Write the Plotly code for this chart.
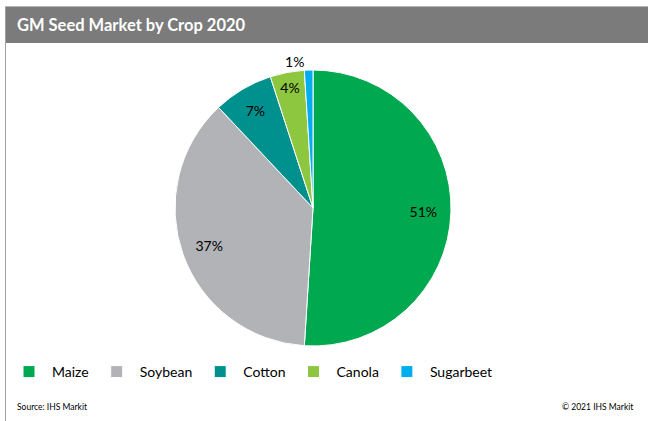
import plotly.graph_objects as go

crops = ["Maize", "Soybean", "Cotton", "Canola", "Sugarbeet"]
shares = [51, 37, 7, 4, 1]
colors = ["#00a84f", "#b1b3b6", "#00918e", "#8dc63f", "#00aeef"]
text_pos = ["inside", "inside", "inside", "inside", "outside"]

W, H = 648, 421
FONT = "Lato"

def px_x(x):
    return x / W

def px_y(y):
    return 1 - y / H

cx, cy, r = 313, 208, 138
dom = dict(x=[px_x(cx - r), px_x(cx + r)], y=[px_y(cy + r), px_y(cy - r)])

fig = go.Figure()
# Filled pie (no text)
fig.add_trace(go.Pie(
    labels=crops,
    values=shares,
    sort=False,
    direction="clockwise",
    rotation=0,
    marker=dict(colors=colors, line=dict(color="white", width=1)),
    textinfo="none",
    hoverinfo="label+percent",
    domain=dom,
))
# Transparent ring overlay carrying the percentage labels near the rim
fig.add_trace(go.Pie(
    labels=crops,
    values=shares,
    sort=False,
    direction="clockwise",
    rotation=0,
    hole=0.6,
    marker=dict(colors=["rgba(0,0,0,0)"] * len(crops), line=dict(width=0)),
    texttemplate="%{value}%",
    textposition=text_pos,
    insidetextorientation="horizontal",
    textfont=dict(family=FONT, size=14, color="#000000"),
    hoverinfo="skip",
    showlegend=False,
    domain=dom,
))

fig.update_layout(
    width=W, height=H,
    margin=dict(l=0, r=0, t=0, b=0),
    paper_bgcolor="white",
    plot_bgcolor="white",
    font=dict(family=FONT, color="#000000"),
    showlegend=True,
    legend=dict(
        orientation="h",
        x=px_x(6), xanchor="left",
        y=px_y(372), yanchor="middle",
        itemwidth=36,
        font=dict(family=FONT, size=14, color="#000000"),
        bgcolor="rgba(0,0,0,0)",
    ),
    shapes=[
        dict(type="rect", xref="paper", yref="paper",
             x0=px_x(5), x1=1, y0=px_y(43), y1=px_y(7),
             fillcolor="#7a7b7a", line=dict(width=0), layer="below"),
        dict(type="line", xref="paper", yref="paper",
             x0=px_x(5), x1=1, y0=px_y(6.5), y1=px_y(6.5),
             line=dict(color="#b5b5b5", width=1)),
        dict(type="line", xref="paper", yref="paper",
             x0=px_x(5.5), x1=px_x(5.5), y0=0, y1=px_y(7),
             line=dict(color="#a0a0a0", width=1)),
    ],
    annotations=[
        dict(text="<b>GM Seed Market by Crop 2020</b>", xref="paper", yref="paper",
             x=px_x(15), y=px_y(25), xanchor="left", yanchor="middle",
             showarrow=False, font=dict(family=FONT, size=16.5, color="white")),
        dict(text="Source: IHS Markit", xref="paper", yref="paper",
             x=px_x(15), y=px_y(407), xanchor="left", yanchor="middle",
             showarrow=False, font=dict(family=FONT, size=8.5, color="#000000")),
        dict(text="© 2021 IHS Markit", xref="paper", yref="paper",
             x=px_x(635), y=px_y(407), xanchor="right", yanchor="middle",
             showarrow=False, font=dict(family=FONT, size=8.5, color="#000000")),
    ],
)

fig.write_html("out.html")
